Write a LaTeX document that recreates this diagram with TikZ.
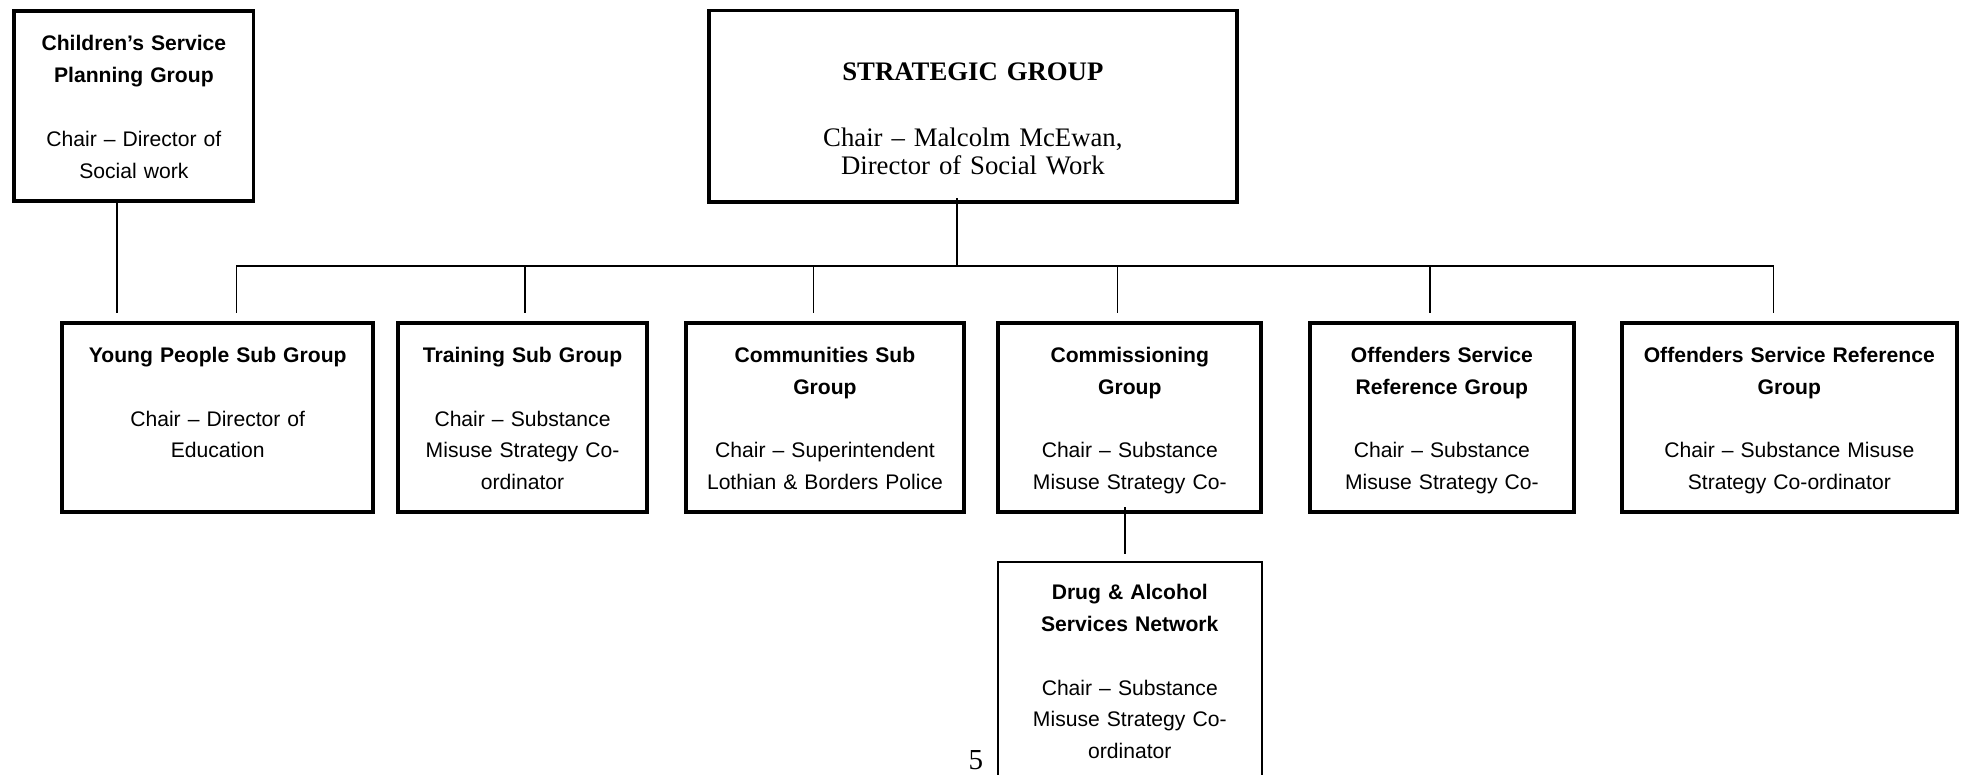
\documentclass[tikz,border=0pt]{standalone}
\usepackage{fontspec}
\setmainfont{Liberation Sans}
\newfontfamily\timesfont{Liberation Serif}
\usetikzlibrary{positioning}

\begin{document}
\begin{tikzpicture}[x = 0.025cm, y = -0.025cm,
    box/.style = {draw, line width = 2.2pt, inner sep = 0pt, align = center,
                  minimum width = #1, text width = #1},
    grp/.style = {box = #1, minimum height = 3.78cm,
                  font = \fontsize{12}{18.1}\selectfont,
                  execute at begin node = \rule{0pt}{12.4pt},
                  execute at end node = \rule[-2.6pt]{0pt}{0pt}},
    link/.style = {line width = 0.9pt},
    drop/.style = {link, shorten > = 0.16cm}]
  \useasboundingbox (0, 0) rectangle (1568, 619);
  \clip (0, 0) rectangle (1568, 619);

  % top row
  \node [grp = 4.78cm, minimum height = 3.8cm] (csp) at (107, 84.5)
    {\textbf{Children's Service\\Planning Group}\\[\baselineskip]
     Chair – Director of\\Social work};
  \node [box = 10.54cm, minimum height = 3.83cm,
         font = \timesfont\fontsize{15.2}{16.3}\selectfont] (strat) at (777.5, 85)
    {\rule{0pt}{0.85cm}\textbf{STRATEGIC GROUP}\\[21.3pt]
     Chair – Malcolm McEwan,\\Director of Social Work};

  % sub groups
  \node [grp = 6.22cm] (yp) at (174, 333.6)
    {\textbf{Young People Sub Group}\\[\baselineskip]
     Chair – Director of\\Education\\\mbox{}};
  \node [grp = 4.98cm] (trn) at (417.6, 333.6)
    {\textbf{Training Sub Group}\\[\baselineskip]
     Chair – Substance\\Misuse Strategy Co-\\ordinator};
  \node [grp = 5.56cm] (comm) at (659.3, 333.6)
    {\textbf{Communities Sub\\Group}\\[\baselineskip]
     Chair – Superintendent\\Lothian \& Borders Police};
  \node [grp = 5.25cm] (cmsn) at (902.9, 333.6)
    {\textbf{Commissioning\\Group}\\[\baselineskip]
     Chair – Substance\\Misuse Strategy Co-};
  \node [grp = 5.28cm] (osrA) at (1152.3, 333.6)
    {\textbf{Offenders Service\\Reference Group}\\[\baselineskip]
     Chair – Substance\\Misuse Strategy Co-};
  \node [grp = 6.69cm] (osrB) at (1430, 333.6)
    {\textbf{Offenders Service Reference\\Group}\\[\baselineskip]
     Chair – Substance Misuse\\Strategy Co-ordinator};

  \node [grp = 5.27cm, line width = 1.1pt, minimum height = 4.32cm] (dans) at (902.9, 535.9)
    {\textbf{Drug \& Alcohol\\Services Network}\\[\baselineskip]
     Chair – Substance\\Misuse Strategy Co-\\ordinator};

  \node [font = \timesfont\fontsize{16.5}{18}\selectfont, inner sep = 0pt] (pnum) at (780, 607.5) {5};

  % connectors
  \coordinate (top) at (765, 212.6);
  \coordinate (bus1) at (189, 212.6);
  \coordinate (bus2) at (419.4, 212.6);
  \coordinate (bus3) at (650, 212.6);
  \coordinate (bus4) at (893, 212.6);
  \coordinate (bus5) at (1143, 212.6);
  \coordinate (bus6) at (1417.5, 212.6);
  \coordinate (cspfoot) at ([xshift = -0.34cm]csp.south);
  \coordinate (netjoin) at ([xshift = -0.1cm, yshift = 0.13cm]cmsn.south);

  \draw [link] (top |- strat.south) ++(0, -4.6) -- (top);
  \draw [link] (bus1) -- (bus6);
  \foreach \b/\n in {bus1/yp, bus2/trn, bus3/comm, bus4/cmsn, bus5/osrA, bus6/osrB}
    \draw [drop] (\b) -- (\b |- \n.north);
  \draw [drop] (cspfoot) -- (cspfoot |- yp.north);
  \draw [drop, shorten > = 0.15cm] (netjoin) -- (netjoin |- dans.north);
\end{tikzpicture}
\end{document}
